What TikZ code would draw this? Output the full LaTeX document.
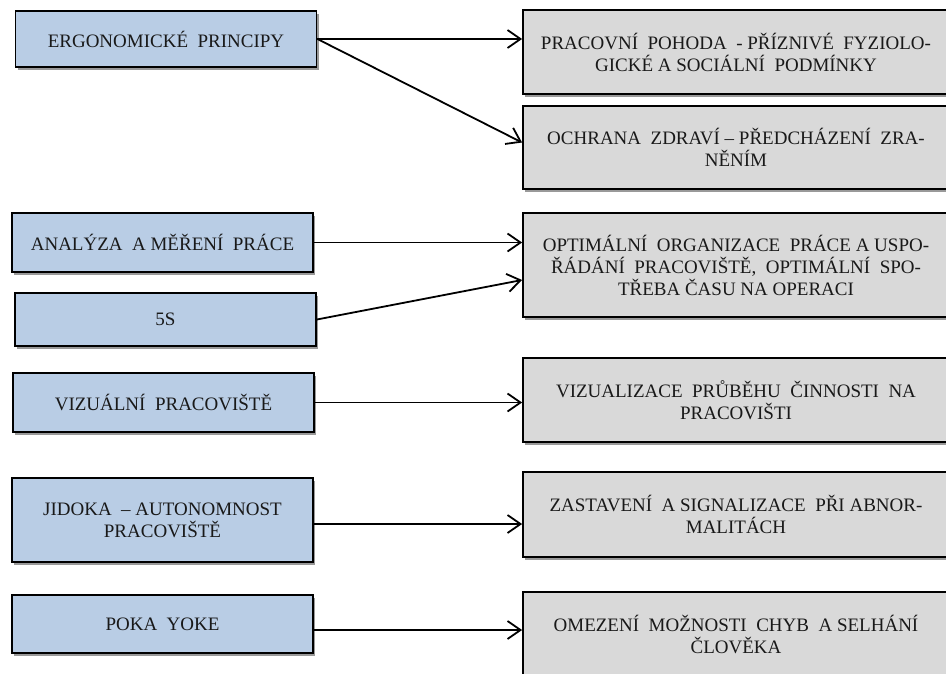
\documentclass[tikz,border=0pt]{standalone}
\usepackage{fontspec}
\setmainfont{Liberation Serif}
\usetikzlibrary{arrows.meta,shadows}
\definecolor{causeblue}{HTML}{B9CDE5}
\definecolor{effectgray}{HTML}{D9D9D9}
\tikzset{
  box/.style={draw=black, line width=1.8pt, align=center, inner sep=0pt,
    text=black!90, font=\fontsize{19}{22}\selectfont,
    drop shadow={shadow xshift=2pt, shadow yshift=-3pt, opacity=0.4, fill=black}},
  cause/.style={box, fill=causeblue, minimum width=301pt},
  effect/.style={box, fill=effectgray, minimum width=426pt},
  link/.style={line width=1.8pt, -{Straight Barb[length=13pt,width=18pt]}}
}
\begin{document}
\begin{tikzpicture}[x=1pt, y=-1pt]
\useasboundingbox (0,0) rectangle (946,673);
% Left column: methods
\node[cause, minimum height=56pt] (ergo) at (166,39) {ERGONOMICKÉ\ \ PRINCIPY};
\node[cause, minimum height=59pt] (analyza) at (162.5,242.5) {ANALÝZA\ \ A MĚŘENÍ\ \ PRÁCE};
\node[cause, minimum height=53pt] (fives) at (165.5,319.5) {5S};
\node[cause, minimum height=59pt] (vizual) at (163.5,402.5) {VIZUÁLNÍ\ \ PRACOVIŠTĚ};
\node[cause, minimum height=84pt] (jidoka) at (162.5,520) {JIDOKA\ \ – AUTONOMNOST\\PRACOVIŠTĚ};
\node[cause, minimum height=58pt] (poka) at (162.5,624) {POKA\ \ YOKE};
% Right column: effects
\node[effect, minimum height=84pt] (pohoda) at (736,52) {PRACOVNÍ\ \ POHODA\ \ - PŘÍZNIVÉ\ \ FYZIOLO-\\GICKÉ A SOCIÁLNÍ\ \ PODMÍNKY};
\node[effect, minimum height=83pt] (zdravi) at (736,147.5) {OCHRANA\ \ ZDRAVÍ – PŘEDCHÁZENÍ\ \ ZRA-\\NĚNÍM};
\node[effect, minimum height=104pt] (organiz) at (736,265) {OPTIMÁLNÍ\ \ ORGANIZACE\ \ PRÁCE A USPO-\\ŘÁDÁNÍ\ \ PRACOVIŠTĚ,\ \ OPTIMÁLNÍ\ \ SPO-\\TŘEBA ČASU NA OPERACI};
\node[effect, minimum height=84pt] (prubeh) at (736,400) {VIZUALIZACE\ \ PRŮBĚHU\ \ ČINNOSTI\ \ NA\\PRACOVIŠTI};
\node[effect, minimum height=85pt] (zastav) at (736,514.5) {ZASTAVENÍ\ \ A SIGNALIZACE\ \ PŘI ABNOR-\\MALITÁCH};
\node[effect, minimum height=84pt] (omez) at (736,634) {OMEZENÍ\ \ MOŽNOSTI\ \ CHYB\ \ A SELHÁNÍ\\ČLOVĚKA};
% Arrows
\draw[link] (ergo.east) -- (pohoda.west |- ergo.east);
\draw[link] (ergo.east) -- ([yshift=5pt]zdravi.west);
\draw[link] (analyza.east) -- (organiz.west |- analyza.east);
\draw[link] (fives.east) -- ([yshift=-15pt]organiz.west);
\draw[link] (vizual.east) -- (prubeh.west |- vizual.east);
\draw[link] ([yshift=-4pt]jidoka.east) -- ([yshift=-4pt]jidoka.east -| zastav.west);
\draw[link] ([yshift=-6pt]poka.east) -- ([yshift=-6pt]poka.east -| omez.west);
\end{tikzpicture}
\end{document}
